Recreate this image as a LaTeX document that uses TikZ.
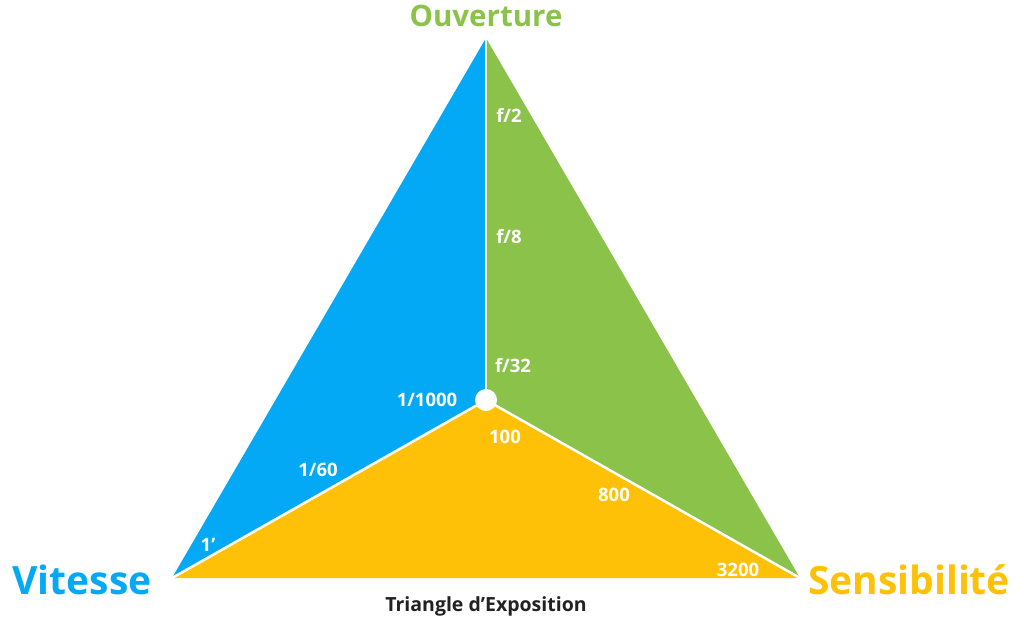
\documentclass[tikz,border=0pt]{standalone}
\usepackage{fontspec}
\setmainfont{Open Sans}
\usepackage{xcolor}
\usepackage{tikz}
\usetikzlibrary{positioning}
\definecolor{vitblue}{HTML}{03A9F4}
\definecolor{ouvgreen}{HTML}{8BC34A}
\definecolor{senorange}{HTML}{FFC107}
\definecolor{darktext}{HTML}{222222}

\begin{document}
\begin{tikzpicture}[x=1pt, y=-1pt, every node/.style={font=\bfseries}]
\tikzset{val/.style={text=white, font=\bfseries\fontsize{18.5}{20}\selectfont, inner sep=0pt},
  title/.style={font=\bfseries\fontsize{39}{42}\selectfont, inner sep=0pt}}
\useasboundingbox (0,0) rectangle (1024,619);
\coordinate (top) at (486,38);
\coordinate (left) at (172,578);
\coordinate (right) at (800,578);
\coordinate (mid) at (486,400);
\fill[vitblue] (top) -- (mid) -- (left) -- cycle;
\fill[ouvgreen] (top) -- (right) -- (mid) -- cycle;
\fill[senorange] (left) -- (mid) -- (right) -- cycle;
\draw[white, line width=2.5pt] (mid) -- (top);
\draw[white, line width=2.5pt] (mid) -- (left);
\draw[white, line width=2.5pt] (mid) -- (right);
\fill[white] (mid) circle (11);
% titres
\node[title, text=ouvgreen, font=\bfseries\fontsize{29.5}{32}\selectfont] (ouv) at (486,16) {Ouverture};
\node[title, text=vitblue] (vit) at (82,580) {Vitesse};
\node[title, text=senorange] (sen) at (909,580) {Sensibilité};
\node[text=darktext, font=\bfseries\fontsize{19.5}{22}\selectfont, inner sep=0pt] (tri) at (486,606) {Triangle d’Exposition};
% valeurs
\node[val] (f2) at (509,115) {f/2};
\node[val] (f8) at (509,237) {f/8};
\node[val] (f32) at (513,366) {f/32};
\node[val] (v1000) at (427,400) {1/1000};
\node[val] (v60) at (318,470) {1/60};
\node[val] (v1) at (208,545) {1’};
\node[val] (s100) at (505,437) {100};
\node[val] (s800) at (614,495) {800};
\node[val] (s3200) at (738,570) {3200};
\end{tikzpicture}
\end{document}
